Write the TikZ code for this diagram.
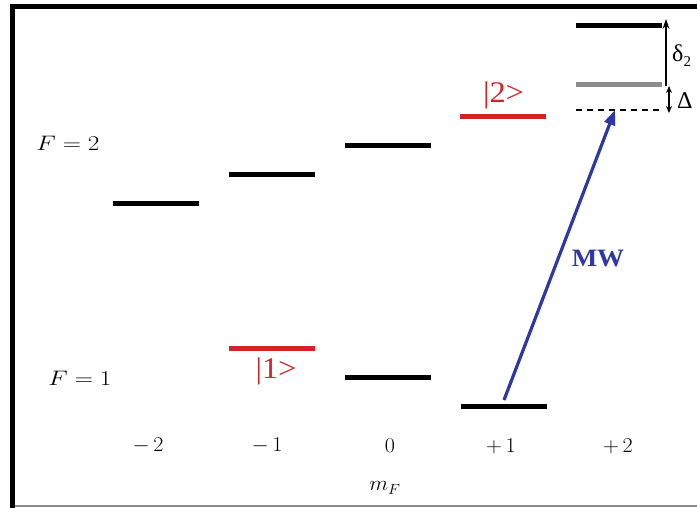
\RequirePackage{fix-cm}
\documentclass[tikz,border=0pt]{standalone}
\usepackage{fontspec}
\newfontfamily\tms{Liberation Serif}
\usepackage{graphicx}
\usetikzlibrary{arrows.meta}
\definecolor{lvred}{RGB}{210,35,40}
\definecolor{mwblue}{RGB}{45,55,165}
\definecolor{lvgray}{RGB}{140,140,140}
\newcommand{\sx}[1]{\scalebox{1.2}[1]{#1}}
\begin{document}
\begin{tikzpicture}[x=1pt,y=-1pt,
  lvl/.style={line width=5pt},
  lbl/.style={inner sep=0pt,font=\fontsize{21}{24}\selectfont},
  ketlbl/.style={inner sep=0pt,text=lvred,font=\tms\fontsize{30}{34}\selectfont},
  symlbl/.style={inner sep=0pt,font=\tms\fontsize{24}{28}\selectfont}]
\useasboundingbox (0,0) rectangle (697,507);
% frame
\draw[line width=5pt,line cap=rect] (12.5,507) -- (12.5,6.5) -- (697,6.5);
\draw[line width=2pt,lvgray] (15,505.5) -- (697,505.5);
% level coordinates
\coordinate (a1) at (113,203); \coordinate (a2) at (199,203);
\coordinate (b1) at (229,174); \coordinate (b2) at (315,174);
\coordinate (c1) at (345,145); \coordinate (c2) at (431,145);
\coordinate (d1) at (460,116); \coordinate (d2) at (546,116);
\coordinate (e1) at (576,25);  \coordinate (e2) at (662,25);
\coordinate (g1) at (576,84);  \coordinate (g2) at (662,84);
\coordinate (h1) at (576,110); \coordinate (h2) at (662,110);
\coordinate (p1) at (229,348); \coordinate (p2) at (315,348);
\coordinate (q1) at (345,377); \coordinate (q2) at (431,377);
\coordinate (r1) at (461,406); \coordinate (r2) at (547,406);
% levels
\draw[lvl] (a1) -- (a2);
\draw[lvl] (b1) -- (b2);
\draw[lvl] (c1) -- (c2);
\draw[lvl,lvred] (d1) -- (d2);
\draw[lvl] (e1) -- (e2);
\draw[lvl,lvgray] (g1) -- (g2);
\draw[line width=1.4pt,dash pattern=on 6pt off 5pt] (h1) -- (h2);
\draw[lvl,lvred] (p1) -- (p2);
\draw[lvl] (q1) -- (q2);
\draw[lvl] (r1) -- (r2);
% MW arrow
\coordinate (mwS) at (504,400);
\coordinate (mwT) at (615,110);
\draw[line width=3.2pt,mwblue,-{Triangle[length=15pt,width=11pt]}] (mwS) -- (mwT);
\node[inner sep=0pt,text=mwblue,font=\tms\bfseries\fontsize{25}{28}\selectfont] (mw) at (598,258) {\scalebox{1.08}[1]{MW}};
% delta arrows
\coordinate (dA) at (666,86);
\coordinate (dB) at (666,19);
\draw[line width=1.4pt,-{Stealth[length=10pt,width=7pt]}] (dA) -- (dB);
\coordinate (DA) at (669,86);
\coordinate (DB) at (669,113);
\draw[line width=1.2pt,{Stealth[length=7pt,width=6pt]}-{Stealth[length=7pt,width=6pt]}] (DA) -- (DB);
\node[symlbl,anchor=west] (d2lbl) at (672,56) {δ\raisebox{-5pt}{\fontsize{15}{17}\selectfont 2}};
\node[symlbl,anchor=west] (Dlbl) at (677,101) {Δ};
% ket labels
\node[ketlbl] (k2) at (503.5,95) {\scalebox{1.08}[1]{|2>}};
\node[ketlbl] (k1) at (276,371) {\scalebox{1.08}[1]{|1>}};
% F labels
\node[lbl] (F2) at (68,143) {\sx{$F=2$}};
\node[lbl] (F1) at (80,378) {\sx{$F=1$}};
% mF labels
\node[lbl] (m2) at (148,446) {\scalebox{1.05}[1]{$-\,2$}};
\node[lbl] (m1) at (267,446) {\scalebox{1.05}[1]{$-\,1$}};
\node[lbl] (m0) at (390,446) {\scalebox{1.05}[1]{$0$}};
\node[lbl] (p1l) at (501,446) {\scalebox{1.05}[1]{$+\,1$}};
\node[lbl] (p2l) at (618,446) {\scalebox{1.05}[1]{$+\,2$}};
\node[lbl] (mF) at (385,488) {\scalebox{1.05}[1]{$m_F$}};
\end{tikzpicture}
\end{document}
